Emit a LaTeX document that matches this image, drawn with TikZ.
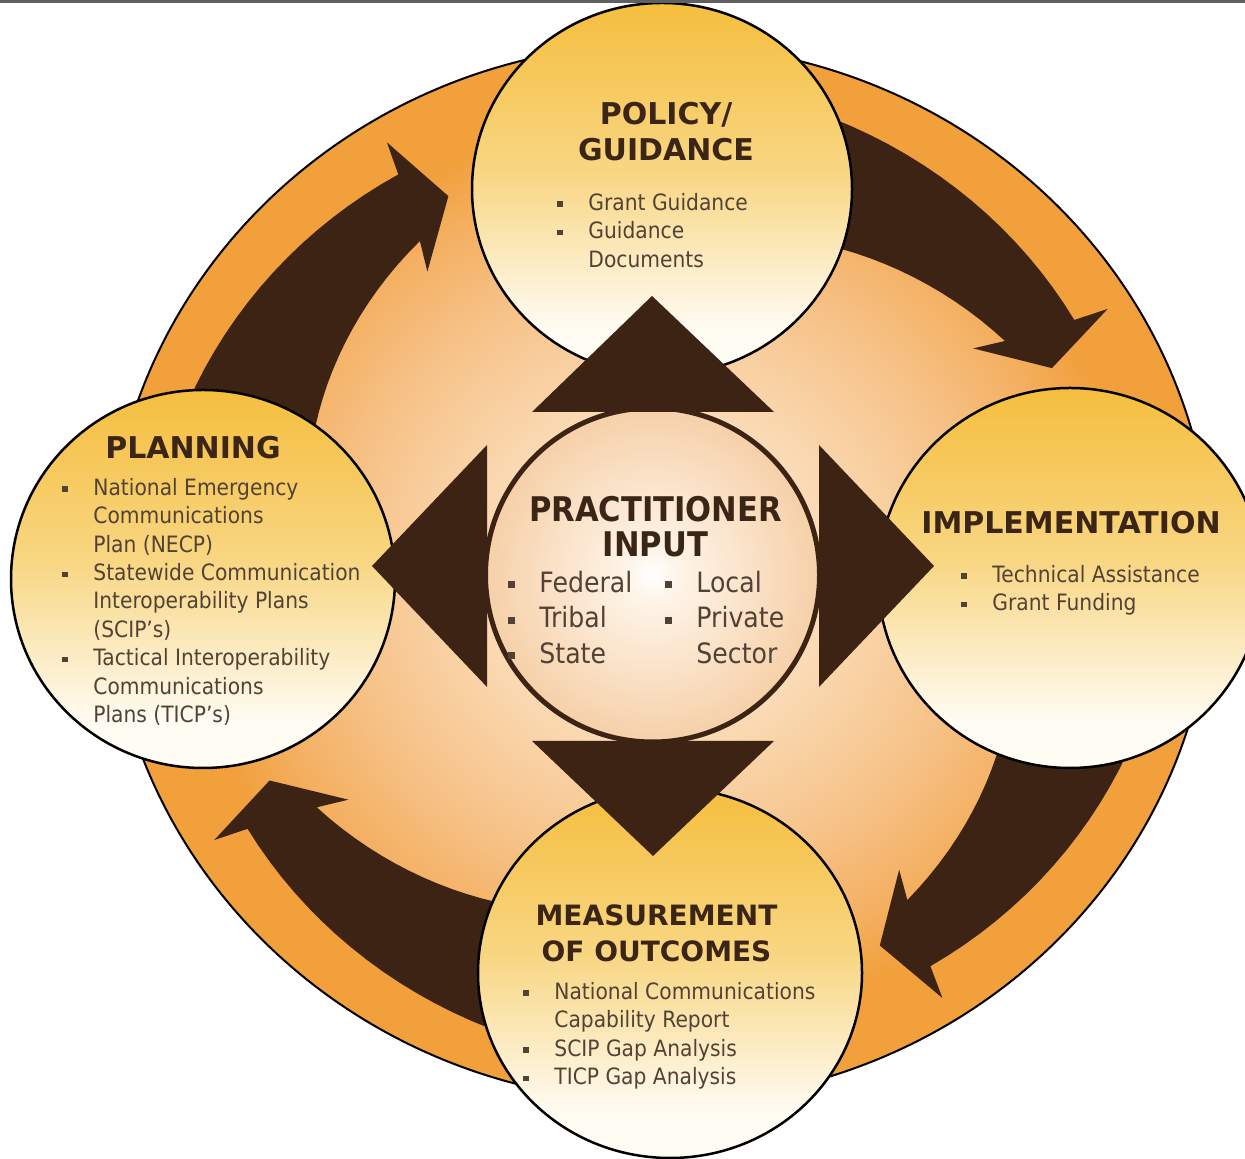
\documentclass[tikz,border=0pt]{standalone}
\usepackage{fontspec}
\setmainfont{DejaVu Sans}
\newfontfamily\bodyfont[FakeStretch=0.9]{DejaVu Sans}
\newfontfamily\hubfont[FakeStretch=0.9]{DejaVu Sans}
\usepackage{tikz}

\definecolor{arrowbrown}{RGB}{61,35,20}
\definecolor{headbrown}{RGB}{59,37,22}
\definecolor{listbrown}{RGB}{82,66,54}
\definecolor{ringorange}{RGB}{241,160,60}
\definecolor{glow0}{RGB}{255,250,242}
\definecolor{glow1}{RGB}{250,216,176}
\definecolor{glow2}{RGB}{246,193,134}
\definecolor{glow3}{RGB}{244,176,98}
\definecolor{hub0}{RGB}{255,255,255}
\definecolor{hub1}{RGB}{254,244,232}
\definecolor{hub2}{RGB}{246,208,168}
\definecolor{cream0}{RGB}{255,252,244}
\definecolor{gold1}{RGB}{248,214,130}
\definecolor{gold2}{RGB}{245,190,62}
\definecolor{topgray}{RGB}{96,96,96}

% shadings: the middle 50bp square is fitted to the shaded path
\pgfdeclareradialshading{ringglow}{\pgfpoint{0bp}{0bp}}{color(0bp)=(glow0); color(8.5bp)=(glow1); color(14.5bp)=(glow2); color(18.5bp)=(glow3); color(21.5bp)=(ringorange); color(50bp)=(ringorange)}
\pgfdeclareradialshading{hubglow}{\pgfpoint{0bp}{0bp}}{color(0bp)=(hub0); color(4bp)=(hub1); color(25bp)=(hub2); color(50bp)=(hub2)}
\pgfdeclareverticalshading{goldfade}{100bp}{color(0bp)=(cream0); color(31bp)=(cream0); color(52.5bp)=(gold1); color(75bp)=(gold2); color(100bp)=(gold2)}

\tikzstyle{ring_circle} = [draw=black, line width=1pt, shading=ringglow]
\tikzstyle{stage_circle} = [draw=black, line width=1.25pt, shading=goldfade]
\tikzstyle{hub_circle} = [draw=arrowbrown, line width=2.5pt, shading=hubglow]
\tikzstyle{arrow_fill} = [fill=arrowbrown]
\tikzstyle{head_text} = [inner sep=0pt, anchor=north, text=headbrown, font=\bfseries\fontsize{15}{18}\selectfont]
\tikzstyle{list_text} = [inner sep=0pt, anchor=north west, text=listbrown, font=\bodyfont\fontsize{11.25}{14.2}\selectfont]

\newcommand{\bul}{\makebox[15.5pt][l]{\rule[0.15em]{0.25em}{0.25em}}}
\newcommand{\cyclearrow}[1]{%
  \fill[arrow_fill, shift={(660,586)}, xscale=1.043, rotate=#1]
    (0:428) -- (3:504) -- (3.9:471)
    -- plot[domain=3.9:60, samples=25] (\x:{471+0.342*(\x-3.9)})
    -- plot[domain=60:6.45, samples=25] (\x:{404-1.356*(\x-6.45)})
    -- (8.2:375) -- cycle;}

\begin{document}
\begin{tikzpicture}[x=0.5pt, y=0.5pt]
\useasboundingbox (0,0) rectangle (1245,1159);
\clip (0,0) rectangle (1245,1159);

% outer ring
\path[ring_circle] (660,586) ellipse [x radius=552, y radius=529];

% cycle arrows
\cyclearrow{118.3}
\cyclearrow{28.6}
\cyclearrow{-60.5}
\cyclearrow{209}

% stages
\path[stage_circle] (662,970) ellipse [x radius=190, y radius=186];
\path[stage_circle] (203,580) ellipse [x radius=192, y radius=189];
\path[stage_circle] (1070,581) ellipse [x radius=192, y radius=190];
\path[stage_circle] (670,186) ellipse [x radius=192, y radius=185];

% hub
\path[hub_circle] (652.5,584) circle (167);

% pointers out of the hub
\fill[arrow_fill] (652,863) -- (532,747) -- (774,747) -- cycle;
\fill[arrow_fill] (653,303) -- (532,418) -- (774,418) -- cycle;
\fill[arrow_fill] (372,593) -- (487,714) -- (487,472) -- cycle;
\fill[arrow_fill] (934,593) -- (819,714) -- (819,472) -- cycle;

% texts
\node (policy_head) [head_text] at (666,1060.2) {\begin{tabular}{c}POLICY/\\GUIDANCE\end{tabular}};
\node (policy_list) [list_text] at (557,968.9) {\begin{tabular}{@{}l@{}l@{}}
\bul & Grant Guidance\\
\bul & Guidance\\
 & Documents
\end{tabular}};

\node (planning_head) [head_text] at (193,726.2) {\begin{tabular}{c}PLANNING\end{tabular}};
\node (planning_list) [list_text] at (62,683.9) {\begin{tabular}{@{}l@{}l@{}}
\bul & National Emergency\\
 & Communications\\
 & Plan (NECP)\\
\bul & Statewide Communication\\
 & Interoperability Plans\\
 & (SCIP’s)\\
\bul & Tactical Interoperability\\
 & Communications\\
 & Plans (TICP’s)
\end{tabular}};

\node (impl_head) [head_text] at (1071,651.2) {\begin{tabular}{c}IMPLEMENTATION\end{tabular}};
\node (impl_list) [list_text] at (961,596.9) {\begin{tabular}{@{}l@{}l@{}}
\bul & Technical Assistance\\
\bul & Grant Funding
\end{tabular}};

\node (measure_head) [head_text, font=\bfseries\fontsize{14}{18}\selectfont] at (656.5,259.2) {\begin{tabular}{c}MEASUREMENT\\OF OUTCOMES\end{tabular}};
\node (measure_list) [list_text] at (523,179.9) {\begin{tabular}{@{}l@{}l@{}}
\bul & National Communications\\
 & Capability Report\\
\bul & SCIP Gap Analysis\\
\bul & TICP Gap Analysis
\end{tabular}};

\node (hub_head) [head_text, font=\hubfont\bfseries\fontsize{17}{17.5}\selectfont] at (655.5,663.5) {\begin{tabular}{c}PRACTITIONER\\INPUT\end{tabular}};
\node (hub_left) [list_text, font=\bodyfont\fontsize{14}{17.75}\selectfont] at (508,591.8) {\begin{tabular}{@{}l@{}l@{}}
\bul & Federal\\
\bul & Tribal\\
\bul & State
\end{tabular}};
\node (hub_right) [list_text, font=\bodyfont\fontsize{14}{17.75}\selectfont] at (665,591.8) {\begin{tabular}{@{}l@{}l@{}}
\bul & Local\\
\bul & Private\\
 & Sector
\end{tabular}};

% frame edge
\fill[topgray] (0,1156) rectangle (1245,1159);
\end{tikzpicture}
\end{document}
